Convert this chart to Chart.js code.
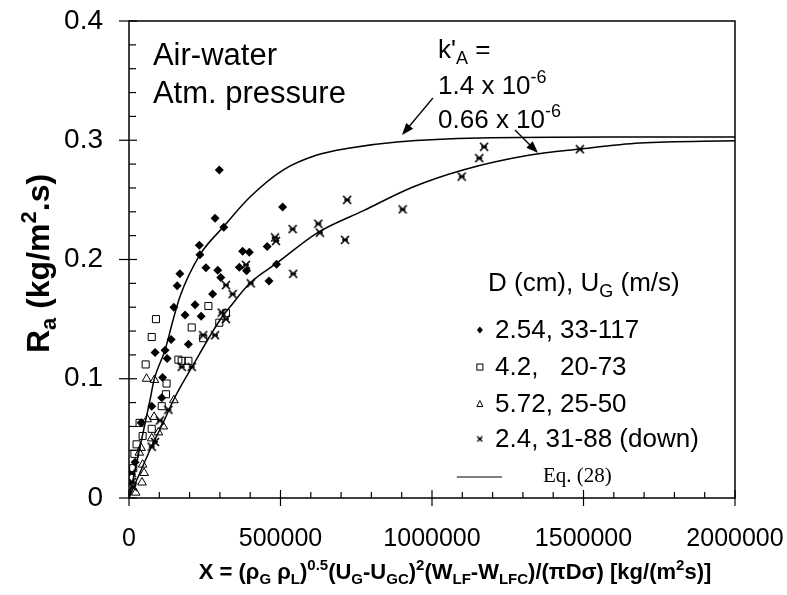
<!DOCTYPE html>
<html><head><meta charset="utf-8">
<script src="https://cdn.jsdelivr.net/npm/chart.js@4/dist/chart.umd.min.js"></script>
<style>html,body{margin:0;padding:0;background:#fff}</style>
</head><body>
<canvas id="c" width="787" height="595"></canvas>
<script>
// ---------- data ----------
const xTickValues = [0, 500000, 1000000, 1500000, 2000000];
const yTickValues = [0, 0.1, 0.2, 0.3, 0.4];

const series254 = [[298000,0.275],[284000,0.2345],[313000,0.227],[507000,0.244],[232000,0.212],[234000,0.204],
 [168000,0.188],[159000,0.178],[254000,0.193],[293000,0.191],[303000,0.185],[375000,0.207],[397000,0.206],
 [364000,0.1935],[388000,0.1905],[456000,0.211],[487000,0.196],[462000,0.182],[148000,0.160],[185000,0.1535],
 [218000,0.162],[238000,0.1525],[276000,0.171],[139000,0.133],[196000,0.129],[86000,0.122],[119000,0.124],
 [126000,0.117],[111000,0.101],[75000,0.077],[108000,0.084],[40000,0.063],[20000,0.03]];
const series42 = [[89000,0.150],[262000,0.161],[320000,0.155],[298000,0.147],[207000,0.143],[75000,0.135],
 [245000,0.134],[163000,0.116],[174000,0.115],[196000,0.115],[124000,0.096],[122000,0.087],[108000,0.077],
 [75000,0.058],[18000,0.037],[14000,0.025],[55000,0.112],[35000,0.063],[25000,0.045],[45000,0.052]];
const series572 = [[84000,0.099],[148000,0.082],[83000,0.068],[113000,0.060],[97000,0.055],[75000,0.050],
 [34000,0.038],[45000,0.028],[50000,0.021],[43000,0.013],[22000,0.0045],[60000,0.066],[40000,0.042],[58000,0.1]];
const series24 = [[720000,0.250],[625000,0.230],[630000,0.2225],[540000,0.2255],[482000,0.2185],[485000,0.2155],
 [713000,0.2165],[542000,0.188],[386000,0.1955],[402000,0.180],[320000,0.1785],[342000,0.171],[306000,0.1555],
 [320000,0.150],[1172000,0.2945],[1156000,0.285],[1098000,0.2695],[1488000,0.2925],[903000,0.242],
 [245000,0.1365],[284000,0.1365],[174000,0.110],[207000,0.110],[130000,0.074],[102000,0.065],[86000,0.047],
 [75000,0.043],[9000,0.021],[10000,0.0135],[13000,0.0095]];

// Eq. (28) curves
const curveK14 = [[0,0],[69300,0.082],[82500,0.099],[118800,0.124],[145200,0.149],[168300,0.169],[234300,0.204],
 [310200,0.227],[399300,0.2524],[508200,0.275],[620400,0.2876],[729300,0.2935],[884400,0.2985],[1158300,0.3019],
 [1686000,0.3027],[2000000,0.3028]];
const curveK066 = [[0,0],[69300,0.0403],[112200,0.0629],[151800,0.0847],[207900,0.1099],[300300,0.1493],
 [333300,0.1602],[399300,0.1803],[488400,0.1971],[620400,0.2222],[774000,0.241],[937200,0.2608],[1102200,0.2751],
 [1323300,0.2876],[1488300,0.2927],[1686300,0.2977],[2000000,0.2996]];

const legendTitle = 'D (cm), U|G| (m/s)';
const legendLabels = ['2.54, 33-117', '4.2,   20-73', '5.72, 25-50', '2.4, 31-88 (down)'];
const curveLabel = 'Eq. (28)';
const noteLines = ['Air-water', 'Atm. pressure'];

// ---------- rendering ----------
const FONT = '"Liberation Sans", Arial, Helvetica, sans-serif';
const toXY = a => a.map(p => ({x: p[0], y: p[1]}));

function makeStar(size, lw) {
  const c = document.createElement('canvas');
  c.width = size; c.height = size;
  const g = c.getContext('2d');
  g.strokeStyle = '#000'; g.lineWidth = lw; g.lineCap = 'butt';
  const m = 1, e = size - 1;
  g.beginPath();
  g.moveTo(m, m); g.lineTo(e, e);
  g.moveTo(e, m); g.lineTo(m, e);
  g.moveTo(m + 1, size / 2); g.lineTo(e - 1, size / 2);
  g.stroke();
  return c;
}
const starImg = makeStar(10, 1.7);

function richSegs(str) {
  const segs = []; let mode = null, buf = '';
  for (const ch of str) {
    if (ch === '|' || ch === '^') {
      if (buf) segs.push({t: buf, m: mode});
      buf = '';
      const nm = ch === '|' ? 'sub' : 'sup';
      mode = (mode === nm) ? null : nm;
    } else buf += ch;
  }
  if (buf) segs.push({t: buf, m: mode});
  return segs;
}
function drawRich(ctx, str, x, y, size, weight, align, family) {
  const segs = richSegs(str);
  const fam = family || FONT;
  const fontFor = m => `${weight} ${m ? Math.round(size * 0.68) : size}px ${fam}`;
  let total = 0;
  segs.forEach(s => { ctx.font = fontFor(s.m); s.w = ctx.measureText(s.t).width; total += s.w; });
  let cx = align === 'center' ? x - total / 2 : (align === 'right' ? x - total : x);
  ctx.textAlign = 'left'; ctx.textBaseline = 'alphabetic';
  segs.forEach(s => {
    ctx.font = fontFor(s.m);
    const dy = s.m === 'sub' ? size * 0.22 : (s.m === 'sup' ? -size * 0.42 : 0);
    ctx.fillText(s.t, cx, y + dy);
    cx += s.w;
  });
  return total;
}
function arrow(ctx, x1, y1, x2, y2) {
  const ang = Math.atan2(y2 - y1, x2 - x1), L = 12, W = 4.5;
  ctx.beginPath(); ctx.moveTo(x1, y1);
  ctx.lineTo(x2 - L * 0.6 * Math.cos(ang), y2 - L * 0.6 * Math.sin(ang)); ctx.stroke();
  ctx.beginPath();
  ctx.moveTo(x2, y2);
  ctx.lineTo(x2 - L * Math.cos(ang) + W * Math.sin(ang), y2 - L * Math.sin(ang) - W * Math.cos(ang));
  ctx.lineTo(x2 - L * Math.cos(ang) - W * Math.sin(ang), y2 - L * Math.sin(ang) + W * Math.cos(ang));
  ctx.closePath(); ctx.fill();
}

const decor = {
  id: 'decor',
  afterDraw(chart) {
    const {ctx, chartArea: a, scales: {x, y}} = chart;
    const X = v => x.getPixelForValue(v), Y = v => y.getPixelForValue(v);
    ctx.save();
    ctx.strokeStyle = '#000'; ctx.fillStyle = '#000';
    ctx.lineWidth = 1.5;
    ctx.strokeRect(a.left, a.top, a.right - a.left, a.bottom - a.top);
    ctx.lineWidth = 1.2;
    for (let i = 0; i <= 20; i++) {
      const py = Y(i * 0.02), major = i % 5 === 0;
      ctx.beginPath(); ctx.moveTo(a.left - (major ? 10 : 0), py); ctx.lineTo(a.left + (major ? 8 : 7), py); ctx.stroke();
    }
    for (let i = 0; i <= 20; i++) {
      const px = X(i * 100000), major = i % 5 === 0;
      ctx.beginPath(); ctx.moveTo(px, a.bottom + (major ? 8 : 0)); ctx.lineTo(px, a.bottom - (major ? 8 : 6)); ctx.stroke();
    }
    // notes
    drawRich(ctx, noteLines[0], X(79000), Y(0.3631), 31, 'normal', 'left');
    drawRich(ctx, noteLines[1], X(79000), Y(0.3312), 31, 'normal', 'left');
    drawRich(ctx, 'k\'|A| =', X(1020000), Y(0.369), 26, 'normal', 'left');
    drawRich(ctx, '1.4 x 10^-6^', X(1020000), Y(0.3388), 26, 'normal', 'left');
    drawRich(ctx, '0.66 x 10^-6^', X(1020000), Y(0.3103), 26, 'normal', 'left');
    ctx.lineWidth = 1.3;
    arrow(ctx, X(1003000), Y(0.3354), X(901000), Y(0.3044));
    arrow(ctx, X(1274000), Y(0.3086), X(1350000), Y(0.2893));
    // legend
    drawRich(ctx, legendTitle, X(1185000), Y(0.1736), 26, 'normal', 'left');
    const ly = [0.1342, 0.1031, 0.0721, 0.0428];
    legendLabels.forEach((t, i) => drawRich(ctx, t, X(1208000), Y(ly[i]), 26, 'normal', 'left'));
    const mx = X(1158000);
    const my = ly.map(v => Y(v) - 8);
    ctx.lineWidth = 1;
    ctx.beginPath(); ctx.moveTo(mx - 3, my[0]); ctx.lineTo(mx, my[0] - 3.5); ctx.lineTo(mx + 3, my[0]); ctx.lineTo(mx, my[0] + 3.5); ctx.closePath(); ctx.fill();
    ctx.strokeRect(mx - 3, my[1] - 3, 6, 6);
    ctx.beginPath(); ctx.moveTo(mx, my[2] - 3.5); ctx.lineTo(mx + 3, my[2] + 2.5); ctx.lineTo(mx - 3, my[2] + 2.5); ctx.closePath(); ctx.stroke();
    ctx.drawImage(makeStar(7, 1.4), mx - 3.5, my[3] - 3.5);
    ctx.lineWidth = 1;
    ctx.beginPath(); ctx.moveTo(X(1082000), Y(0.0176)); ctx.lineTo(X(1231000), Y(0.0176)); ctx.stroke();
    ctx.font = '21px "Liberation Serif", "Times New Roman", serif';
    ctx.textAlign = 'left'; ctx.textBaseline = 'alphabetic';
    ctx.fillText(curveLabel, X(1366000), Y(0.0134));
    // axis titles
    drawRich(ctx, 'X = (ρ|G| ρ|L|)^0.5^(U|G|-U|GC|)^2^(W|LF|-W|LFC|)/(πDσ) [kg/(m^2^s)]', (a.left + a.right) / 2 + 23, 579, 22, 'bold', 'center');
    ctx.save();
    ctx.translate(49, (a.top + a.bottom) / 2 + 4);
    ctx.rotate(-Math.PI / 2);
    drawRich(ctx, 'R|a| (kg/m^2^.s)', 0, 0, 32, 'bold', 'center');
    ctx.restore();
    ctx.restore();
  }
};

const tickFont = size => ({family: FONT, size: size});
new Chart(document.getElementById('c'), {
  type: 'scatter',
  data: {
    datasets: [
      {label: 'k14', data: toXY(curveK14), showLine: true, pointRadius: 0, borderColor: '#000', borderWidth: 1.5, cubicInterpolationMode: 'monotone', fill: false},
      {label: 'k066', data: toXY(curveK066), showLine: true, pointRadius: 0, borderColor: '#000', borderWidth: 1.5, cubicInterpolationMode: 'monotone', fill: false},
      {label: legendLabels[0], data: toXY(series254), pointStyle: 'rectRot', pointRadius: 4.5, backgroundColor: '#000', borderColor: '#000', borderWidth: 0},
      {label: legendLabels[1], data: toXY(series42), pointStyle: 'rect', pointRadius: 5, backgroundColor: 'rgba(255,255,255,0)', borderColor: '#000', borderWidth: 1},
      {label: legendLabels[2], data: toXY(series572), pointStyle: 'triangle', pointRadius: 5, backgroundColor: 'rgba(255,255,255,0)', borderColor: '#000', borderWidth: 1},
      {label: legendLabels[3], data: toXY(series24), pointStyle: starImg, pointRadius: 5, borderColor: '#000'}
    ]
  },
  options: {
    responsive: false, animation: false, devicePixelRatio: 1,
    layout: {padding: {left: 0, top: 21, right: 52, bottom: 0}},
    plugins: {legend: {display: false}, tooltip: {enabled: false}},
    scales: {
      x: {type: 'linear', min: 0, max: 2000000,
        grid: {display: false, drawTicks: false}, border: {display: false},
        afterBuildTicks: s => { s.ticks = xTickValues.map(v => ({value: v})); },
        ticks: {autoSkip: false, maxRotation: 0, padding: 26, color: '#000', font: tickFont(25), callback: v => String(v)},
        afterFit: s => { s.height = 97; s.paddingLeft = 0; s.paddingRight = 0; }},
      y: {type: 'linear', min: 0, max: 0.4,
        grid: {display: false, drawTicks: false}, border: {display: false},
        afterBuildTicks: s => { s.ticks = yTickValues.map(v => ({value: v})); },
        ticks: {autoSkip: false, padding: 26, color: '#000', font: tickFont(28), callback: v => (v === 0 ? '0' : v.toFixed(1))},
        afterFit: s => { s.width = 129; s.paddingTop = 0; s.paddingBottom = 0; }}
    }
  },
  plugins: [decor]
});
</script>
</body></html>
